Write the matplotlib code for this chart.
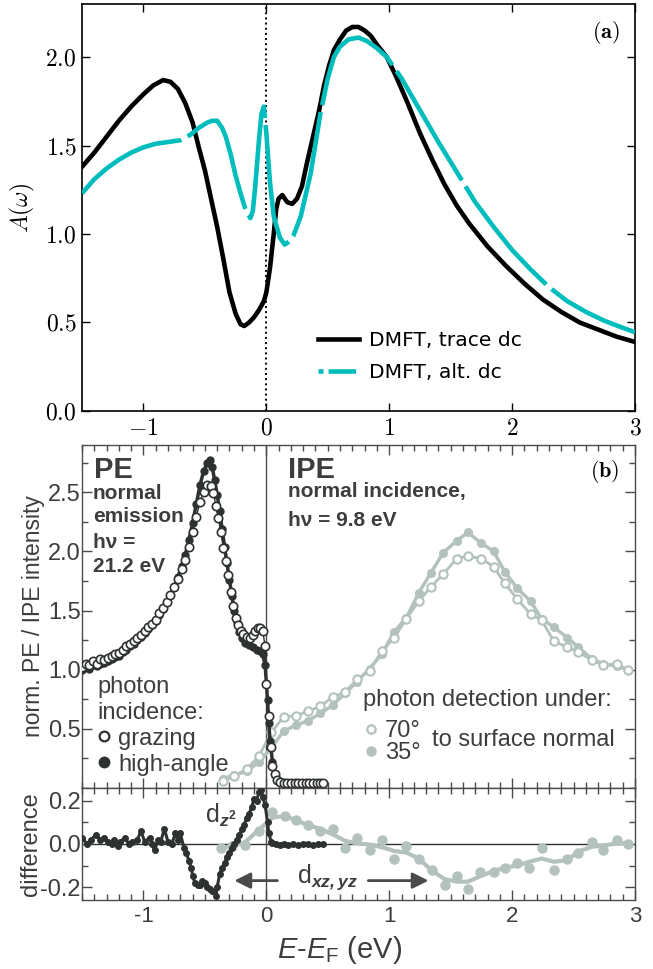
"""
Spectral function A(w) from DMFT (panel a) vs. PE / IPE spectra (panel b)
with the angle-dependent difference curves underneath.
"""

import numpy as np
import matplotlib
matplotlib.use("Agg")
import matplotlib.pyplot as plt
from matplotlib.lines import Line2D
from matplotlib.ticker import MultipleLocator

plt.rcParams["font.family"] = ["Liberation Sans", "DejaVu Sans"]
plt.rcParams["mathtext.fontset"] = "cm"
plt.rcParams["mathtext.rm"] = "Liberation Sans"
plt.rcParams["mathtext.it"] = "Liberation Sans:italic"
plt.rcParams["mathtext.bf"] = "Liberation Sans:bold"
plt.rcParams["mathtext.bfit"] = "Liberation Sans:italic:bold"

# ── Data: panel (a), DMFT spectral functions (omega, A) ──────────────────────

dmft_trace = [
    (-1.50, 1.38), (-1.40, 1.46), (-1.30, 1.55), (-1.20, 1.64), (-1.10, 1.72),
    (-1.00, 1.79), (-0.92, 1.84), (-0.84, 1.87), (-0.78, 1.86), (-0.72, 1.82),
    (-0.66, 1.74), (-0.60, 1.63), (-0.55, 1.49), (-0.50, 1.36), (-0.45, 1.20),
    (-0.40, 1.04), (-0.35, 0.86), (-0.30, 0.67), (-0.25, 0.55), (-0.21, 0.49),
    (-0.18, 0.48), (-0.14, 0.50), (-0.10, 0.53), (-0.06, 0.57), (-0.02, 0.62),
    (0.00, 0.67), (0.03, 0.81), (0.06, 1.00), (0.08, 1.14), (0.10, 1.20),
    (0.13, 1.22), (0.17, 1.18), (0.21, 1.17), (0.25, 1.20), (0.29, 1.27),
    (0.33, 1.40), (0.36, 1.49), (0.40, 1.61), (0.43, 1.70), (0.47, 1.84),
    (0.51, 1.95), (0.55, 2.04), (0.60, 2.10), (0.65, 2.15), (0.70, 2.17),
    (0.75, 2.17), (0.80, 2.15), (0.85, 2.12), (0.90, 2.07), (0.98, 2.00),
    (1.05, 1.90), (1.15, 1.74), (1.25, 1.57), (1.35, 1.42), (1.45, 1.28),
    (1.55, 1.16), (1.65, 1.06), (1.80, 0.93), (1.95, 0.82), (2.10, 0.72),
    (2.25, 0.63), (2.40, 0.56), (2.55, 0.50), (2.70, 0.46), (2.85, 0.42),
    (3.00, 0.39),
]

dmft_alt = [
    (-1.50, 1.23), (-1.40, 1.31), (-1.30, 1.37), (-1.20, 1.42), (-1.10, 1.46),
    (-1.00, 1.49), (-0.90, 1.51), (-0.80, 1.52), (-0.70, 1.53), (-0.62, 1.56),
    (-0.55, 1.60), (-0.48, 1.63), (-0.44, 1.64), (-0.40, 1.64), (-0.36, 1.60),
    (-0.33, 1.55), (-0.29, 1.45), (-0.25, 1.33), (-0.21, 1.23), (-0.17, 1.14),
    (-0.13, 1.09), (-0.11, 1.13), (-0.09, 1.27), (-0.06, 1.53), (-0.04, 1.68),
    (-0.02, 1.72), (0.00, 1.57), (0.03, 1.29), (0.06, 1.10), (0.11, 0.98),
    (0.15, 0.94), (0.19, 0.96), (0.22, 0.99), (0.28, 1.10), (0.32, 1.22),
    (0.36, 1.34), (0.40, 1.51), (0.44, 1.68), (0.50, 1.88), (0.55, 2.00),
    (0.60, 2.06), (0.67, 2.10), (0.75, 2.11), (0.82, 2.09), (0.90, 2.05),
    (0.98, 2.00), (1.10, 1.88), (1.25, 1.70), (1.40, 1.52), (1.55, 1.35),
    (1.70, 1.18), (1.85, 1.04), (2.00, 0.91), (2.15, 0.80), (2.30, 0.70),
    (2.45, 0.62), (2.60, 0.56), (2.75, 0.51), (2.90, 0.47), (3.00, 0.445),
]

# ── Data: panel (b), photoemission (E-EF, intensity) ─────────────────────────

pe_grazing = [
    (-1.50, 1.02), (-1.47, 1.05), (-1.44, 1.04), (-1.41, 1.07), (-1.38, 1.05),
    (-1.35, 1.09), (-1.32, 1.08), (-1.29, 1.10), (-1.26, 1.12), (-1.23, 1.13),
    (-1.20, 1.14), (-1.17, 1.17), (-1.14, 1.20), (-1.11, 1.22), (-1.08, 1.24),
    (-1.05, 1.27), (-1.02, 1.29), (-0.99, 1.33), (-0.96, 1.36), (-0.93, 1.39),
    (-0.90, 1.42), (-0.87, 1.48), (-0.84, 1.52), (-0.81, 1.57), (-0.78, 1.63),
    (-0.75, 1.70), (-0.72, 1.77), (-0.69, 1.85), (-0.66, 1.93), (-0.63, 2.04),
    (-0.60, 2.16), (-0.57, 2.29), (-0.54, 2.42), (-0.51, 2.50), (-0.48, 2.56),
    (-0.45, 2.55), (-0.43, 2.49), (-0.41, 2.38), (-0.39, 2.28), (-0.37, 2.16),
    (-0.35, 2.03), (-0.33, 1.92), (-0.31, 1.80), (-0.29, 1.66), (-0.27, 1.54),
    (-0.25, 1.44), (-0.23, 1.38), (-0.21, 1.33), (-0.19, 1.30), (-0.16, 1.28),
    (-0.13, 1.27), (-0.11, 1.29), (-0.09, 1.33), (-0.07, 1.35), (-0.05, 1.35),
    (-0.03, 1.33), (-0.01, 1.20), (0.00, 0.88), (0.02, 0.61), (0.04, 0.35),
    (0.05, 0.19), (0.07, 0.12), (0.09, 0.07), (0.11, 0.05), (0.14, 0.04),
    (0.17, 0.04), (0.20, 0.04), (0.23, 0.04), (0.26, 0.04), (0.29, 0.04),
    (0.32, 0.04), (0.35, 0.04), (0.38, 0.04), (0.41, 0.04), (0.44, 0.04),
    (0.46, 0.04),
]

pe_high_angle = [
    (-1.50, 1.00), (-1.47, 1.02), (-1.44, 1.01), (-1.41, 1.04), (-1.38, 1.03),
    (-1.35, 1.05), (-1.32, 1.06), (-1.29, 1.07), (-1.26, 1.09), (-1.23, 1.11),
    (-1.20, 1.12), (-1.17, 1.15), (-1.14, 1.17), (-1.11, 1.20), (-1.08, 1.22),
    (-1.05, 1.25), (-1.02, 1.28), (-0.99, 1.31), (-0.96, 1.34), (-0.93, 1.38),
    (-0.90, 1.41), (-0.87, 1.46), (-0.84, 1.51), (-0.81, 1.57), (-0.78, 1.63),
    (-0.75, 1.70), (-0.72, 1.78), (-0.69, 1.88), (-0.66, 1.97), (-0.63, 2.10),
    (-0.60, 2.24), (-0.57, 2.40), (-0.54, 2.56), (-0.51, 2.68), (-0.48, 2.75),
    (-0.46, 2.77), (-0.44, 2.71), (-0.42, 2.60), (-0.40, 2.48), (-0.38, 2.34),
    (-0.36, 2.19), (-0.34, 2.04), (-0.32, 1.90), (-0.30, 1.76), (-0.28, 1.62),
    (-0.26, 1.50), (-0.24, 1.40), (-0.22, 1.32), (-0.20, 1.27), (-0.17, 1.23),
    (-0.14, 1.21), (-0.11, 1.19), (-0.08, 1.17), (-0.05, 1.16), (-0.03, 1.13),
    (-0.01, 1.04), (0.01, 0.74), (0.02, 0.55), (0.03, 0.40), (0.05, 0.22),
    (0.07, 0.12), (0.09, 0.07), (0.11, 0.05), (0.14, 0.04), (0.18, 0.04),
    (0.22, 0.04), (0.26, 0.04), (0.30, 0.04), (0.34, 0.04), (0.38, 0.04),
    (0.42, 0.04), (0.46, 0.04),
]

# inverse photoemission, two detection angles
ipe_energy = [-0.35, -0.26, -0.16, -0.06, 0.04, 0.14, 0.24, 0.34, 0.44, 0.54,
              0.64, 0.74, 0.84, 0.94, 1.04, 1.14, 1.24, 1.34, 1.44, 1.55,
              1.64, 1.75, 1.85, 1.94, 2.04, 2.15, 2.24, 2.34, 2.45, 2.54,
              2.65, 2.74, 2.85, 2.94]
ipe_70deg = [0.06, 0.10, 0.16, 0.27, 0.47, 0.60, 0.61, 0.65, 0.69, 0.77,
             0.81, 0.92, 0.99, 1.16, 1.27, 1.43, 1.58, 1.70, 1.81, 1.94,
             1.96, 1.94, 1.87, 1.73, 1.60, 1.47, 1.42, 1.24, 1.19, 1.15,
             1.08, 1.04, 1.05, 1.00]
ipe_35deg = [0.08, 0.11, 0.14, 0.22, 0.34, 0.48, 0.53, 0.57, 0.63, 0.70,
             0.80, 0.90, 1.01, 1.13, 1.32, 1.44, 1.65, 1.82, 1.99, 2.09,
             2.16, 2.07, 2.00, 1.83, 1.69, 1.58, 1.43, 1.36, 1.27, 1.19,
             1.09, 1.05, 1.03, 1.00]

# ── Data: difference curves ──────────────────────────────────────────────────

pe_diff = [
    (-1.50, 0.03), (-1.46, 0.00), (-1.43, 0.02), (-1.39, 0.04), (-1.35, 0.02),
    (-1.32, 0.03), (-1.29, 0.01), (-1.26, 0.00), (-1.24, 0.02), (-1.21, -0.01),
    (-1.19, 0.01), (-1.15, 0.03), (-1.12, 0.00), (-1.09, 0.01), (-1.05, 0.02),
    (-1.02, 0.06), (-0.99, 0.01), (-0.95, 0.03), (-0.93, 0.00), (-0.91, -0.03),
    (-0.88, 0.02), (-0.86, 0.01), (-0.83, 0.07), (-0.80, 0.01), (-0.77, 0.00),
    (-0.74, 0.05), (-0.72, 0.02), (-0.70, 0.05), (-0.67, -0.02), (-0.65, -0.04),
    (-0.63, -0.08), (-0.61, -0.11), (-0.60, -0.15), (-0.58, -0.18), (-0.56, -0.19),
    (-0.54, -0.19), (-0.52, -0.17), (-0.50, -0.18), (-0.48, -0.20), (-0.46, -0.21),
    (-0.44, -0.22), (-0.41, -0.24), (-0.40, -0.20), (-0.38, -0.14), (-0.36, -0.11),
    (-0.34, -0.09), (-0.32, -0.06), (-0.30, -0.04), (-0.28, -0.02), (-0.26, 0.00),
    (-0.24, 0.02), (-0.22, 0.04), (-0.20, 0.07), (-0.18, 0.09), (-0.16, 0.12),
    (-0.14, 0.14), (-0.12, 0.17), (-0.10, 0.21), (-0.08, 0.20), (-0.06, 0.24),
    (-0.04, 0.25), (-0.03, 0.22), (-0.01, 0.18), (0.01, 0.10), (0.02, 0.05),
    (0.04, 0.01), (0.05, 0.005), (0.08, 0.00), (0.11, -0.005), (0.14, 0.00),
    (0.18, -0.005), (0.22, 0.00), (0.26, -0.005), (0.30, 0.00), (0.34, 0.00),
    (0.38, -0.005), (0.42, 0.00), (0.46, 0.00),
]

ipe_diff_energy = [-0.37, -0.28, -0.17, -0.06, 0.05, 0.15, 0.24, 0.34, 0.44,
                   0.54, 0.64, 0.74, 0.84, 0.94, 1.04, 1.14, 1.24, 1.35, 1.45,
                   1.55, 1.64, 1.74, 1.85, 1.94, 2.04, 2.14, 2.24, 2.34, 2.45,
                   2.54, 2.65, 2.74, 2.85, 2.94]
ipe_diff = [-0.02, -0.01, -0.005, 0.06, 0.15, 0.13, 0.11, 0.09, 0.06,
            0.07, -0.02, 0.03, -0.03, 0.02, -0.07, -0.01, -0.07, -0.12, -0.19,
            -0.15, -0.21, -0.13, -0.13, -0.11, -0.09, -0.11, -0.02, -0.12, -0.07,
            -0.04, 0.01, -0.03, 0.02, 0.00]

# ── Style ─────────────────────────────────────────────────────────────────────

CYAN  = "#00bdbd"
DARK  = "#2d3230"
LIGHT = "#b3c2bf"
TEXT  = "#3d3d3d"
AXC   = "#4a4a4a"

x_range = (-1.5, 3.0)
int_ticks = [-1, 0, 1, 2, 3]


def split(pairs):
    xs, ys = zip(*pairs)
    return np.array(xs), np.array(ys)


fig = plt.figure(figsize=(6.53, 9.69), dpi=100)

# ── Panel (a) ─────────────────────────────────────────────────────────────────

ax_a = fig.add_axes([0.1256, 0.5759, 0.8468, 0.4200])
x, y = split(dmft_trace)
ax_a.plot(x, y, color="black", lw=3.3, zorder=2)
x, y = split(dmft_alt)
ax_a.plot(x, y, color=CYAN, lw=3.3, linestyle=(2.4, (27.8, 1.55)), zorder=3)
ax_a.axvline(0, color="black", ls=":", lw=1.4, zorder=1)

ax_a.set_xlim(*x_range)
ax_a.set_ylim(0, 2.3)
ax_a.set_xticks(int_ticks)
ax_a.set_xticklabels([f"${v}$" for v in int_ticks])
a_yticks = [0.0, 0.5, 1.0, 1.5, 2.0]
ax_a.set_yticks(a_yticks)
ax_a.set_yticklabels([f"${v:.1f}$" for v in a_yticks])
ax_a.tick_params(direction="in", top=True, right=True, length=6, width=1,
                 labelsize=17)
ax_a.tick_params(axis="x", pad=5)
ax_a.tick_params(axis="y", pad=4)
for s in ax_a.spines.values():
    s.set_linewidth(1.2)
ax_a.set_ylabel(r"$A(\omega)$", fontsize=17)
ax_a.yaxis.set_label_coords(-0.082, 0.5)
ax_a.text(0.948, 0.929, r"$\mathbf{(a)}$", transform=ax_a.transAxes,
          fontsize=16, ha="center", va="center")

handles = [
    Line2D([], [], color="black", lw=3.3),
    Line2D([], [], color=CYAN, lw=3.3, linestyle=(4.9, (6, 1.1))),
]
ax_a.legend(handles, ["DMFT, trace dc", "DMFT, alt. dc"], loc="center left",
            bbox_to_anchor=(0.427, 0.134), frameon=False, borderpad=0,
            borderaxespad=0, handlelength=2.0, handletextpad=0.5,
            labelspacing=0.62, prop={"family": "DejaVu Sans", "size": 14.6})

# ── Panel (b): spectra ────────────────────────────────────────────────────────

ax_b = fig.add_axes([0.1256, 0.1868, 0.8468, 0.3540])
ax_b.axvline(0, color=AXC, lw=1, zorder=1)

ax_b.plot(ipe_energy, ipe_35deg, "o-", color=LIGHT, ms=5.5, lw=2.5, zorder=2)
ax_b.plot(ipe_energy, ipe_70deg, "o-", color=LIGHT, mfc="white", mec=LIGHT,
          mew=1.5, ms=6, lw=2, zorder=3)
x, y = split(pe_high_angle)
ax_b.plot(x, y, "o-", color=DARK, ms=5, lw=2.5, zorder=4)
x, y = split(pe_grazing)
ax_b.plot(x, y, "o-", color=DARK, mfc="white", mec=DARK, mew=1.2, ms=6,
          lw=1, zorder=5)

ax_b.set_xlim(*x_range)
ax_b.set_ylim(0, 2.9)
ax_b.set_xticks(int_ticks)
ax_b.set_xticklabels([])
ax_b.xaxis.set_minor_locator(MultipleLocator(0.1))
b_yticks = [0.5, 1.0, 1.5, 2.0, 2.5]
ax_b.set_yticks(b_yticks)
ax_b.set_yticklabels([f"{v:.1f}" for v in b_yticks])
ax_b.yaxis.set_minor_locator(MultipleLocator(0.25))
ax_b.tick_params(which="both", direction="in", top=True, right=True,
                 color=AXC, labelcolor=TEXT, labelsize=17, pad=1)
ax_b.tick_params(which="major", length=7, width=1)
ax_b.tick_params(which="minor", length=4, width=1)
for s in ax_b.spines.values():
    s.set_color(AXC)
    s.set_linewidth(1)
ax_b.set_ylabel("norm. PE / IPE intensity", fontsize=16.5, color=TEXT)
ax_b.yaxis.set_label_coords(-0.067, 0.5)

ax_b.text(-1.40, 2.618, "PE", fontsize=21, fontweight="bold", color=TEXT)
for txt, yy in zip(["normal", "emission", "h\u03bd =", "21.2 eV"],
                   [2.44, 2.248, 2.029, 1.828]):
    ax_b.text(-1.41, yy, txt, fontsize=15, fontweight="bold", color=TEXT)
ax_b.text(0.175, 2.618, "IPE", fontsize=21, fontweight="bold", color=TEXT)
for txt, yy in zip(["normal incidence,", "h\u03bd = 9.8 eV"], [2.458, 2.214]):
    ax_b.text(0.18, yy, txt, fontsize=15, fontweight="bold", color=TEXT)
ax_b.text(0.946, 0.924, r"$\mathbf{(b)}$", transform=ax_b.transAxes,
          fontsize=16, ha="center", va="center")

pe_handles = [
    Line2D([], [], ls="none", marker="o", ms=7, mfc="white", mec=DARK, mew=1.6),
    Line2D([], [], ls="none", marker="o", ms=7.5, color=DARK),
]
leg1 = ax_b.legend(pe_handles, ["grazing", "high-angle"],
                   title="photon\nincidence:", alignment="left",
                   loc="upper left", bbox_to_anchor=(0.027, 0.326),
                   frameon=False, borderpad=0, borderaxespad=0,
                   handlelength=0.6, handletextpad=0.3, labelspacing=0.17,
                   fontsize=17, title_fontsize=17)
for t in leg1.get_texts():
    t.set_color(TEXT)
leg1.get_title().set_color(TEXT)
leg1.get_title().set_linespacing(1.2)
ax_b.add_artist(leg1)

ax_b.text(0.79, 0.693, "photon detection under:", fontsize=17, color=TEXT)
ipe_handles = [
    Line2D([], [], ls="none", marker="o", ms=6, mfc="white", mec=LIGHT, mew=1.6),
    Line2D([], [], ls="none", marker="o", ms=6.5, color=LIGHT),
]
leg2 = ax_b.legend(ipe_handles, ["70\u00b0", "35\u00b0"],
                   loc="upper left", bbox_to_anchor=(0.509, 0.198),
                   frameon=False, borderpad=0, borderaxespad=0,
                   handlelength=0.6, handletextpad=0.3, labelspacing=0.0,
                   fontsize=17)
for t in leg2.get_texts():
    t.set_color(TEXT)
ax_b.text(1.345, 0.357, "to surface normal", fontsize=17, color=TEXT)

# ── Panel (b): differences ────────────────────────────────────────────────────

ax_d = fig.add_axes([0.1256, 0.0712, 0.8468, 0.1156])
ax_d.axhline(0, color=DARK, lw=1, zorder=1)
ax_d.axvline(0, color=AXC, lw=1, zorder=1)

# grey line is a light smoothing of the measured points
ipe_d = np.array(ipe_diff)
smooth = np.convolve(np.pad(ipe_d, 1, mode="edge"), [0.25, 0.5, 0.25], "valid")
ax_d.plot(ipe_diff_energy, smooth, color=LIGHT, lw=3, zorder=2)
ax_d.plot(ipe_diff_energy, ipe_diff, "o", color=LIGHT, ms=6.5, zorder=2)
x, y = split(pe_diff)
ax_d.plot(x, y, "o-", color=DARK, ms=4, lw=2.2, zorder=3)

ax_d.set_xlim(*x_range)
ax_d.set_ylim(-0.26, 0.26)
ax_d.set_xticks(int_ticks)
ax_d.set_xticklabels([str(v) for v in int_ticks])
ax_d.xaxis.set_minor_locator(MultipleLocator(0.1))
d_yticks = [-0.2, 0.0, 0.2]
ax_d.set_yticks(d_yticks)
ax_d.set_yticklabels([f"{v:.1f}" for v in d_yticks])
ax_d.yaxis.set_minor_locator(MultipleLocator(0.1))
ax_d.tick_params(which="both", direction="in", top=True, right=True,
                 color=AXC, labelcolor=TEXT, pad=1)
ax_d.tick_params(axis="y", labelsize=17)
ax_d.tick_params(axis="x", labelsize=16, pad=4)
ax_d.tick_params(which="major", length=7, width=1)
ax_d.tick_params(which="minor", length=4, width=1)
for s in ax_d.spines.values():
    s.set_color(AXC)
    s.set_linewidth(1)
ax_d.set_ylabel("difference", fontsize=17, color=TEXT)
ax_d.yaxis.set_label_coords(-0.072, 0.5)
ax_d.set_xlabel(r"$E$-$E_{\mathrm{F}}$ (eV)", fontsize=21, color=TEXT,
                math_fontfamily="custom")
ax_d.xaxis.set_label_coords(0.466, -0.30)

ax_d.text(-0.50, 0.10, r"d$_{\mathbfit{z}^{\mathbf{2}}}$", fontsize=18,
          color=TEXT, math_fontfamily="custom")
ax_d.text(0.25, -0.18, r"d$_{\mathbfit{xz,yz}}$", fontsize=18,
          color=TEXT, math_fontfamily="custom")
arrow = dict(arrowstyle="-|>", lw=2, color=AXC, mutation_scale=24,
             shrinkA=0, shrinkB=0)
ax_d.annotate("", xy=(-0.26, -0.17), xytext=(0.09, -0.17), arrowprops=arrow)
ax_d.annotate("", xy=(1.32, -0.17), xytext=(0.83, -0.17), arrowprops=arrow)

fig.savefig("out.png", dpi=100)
